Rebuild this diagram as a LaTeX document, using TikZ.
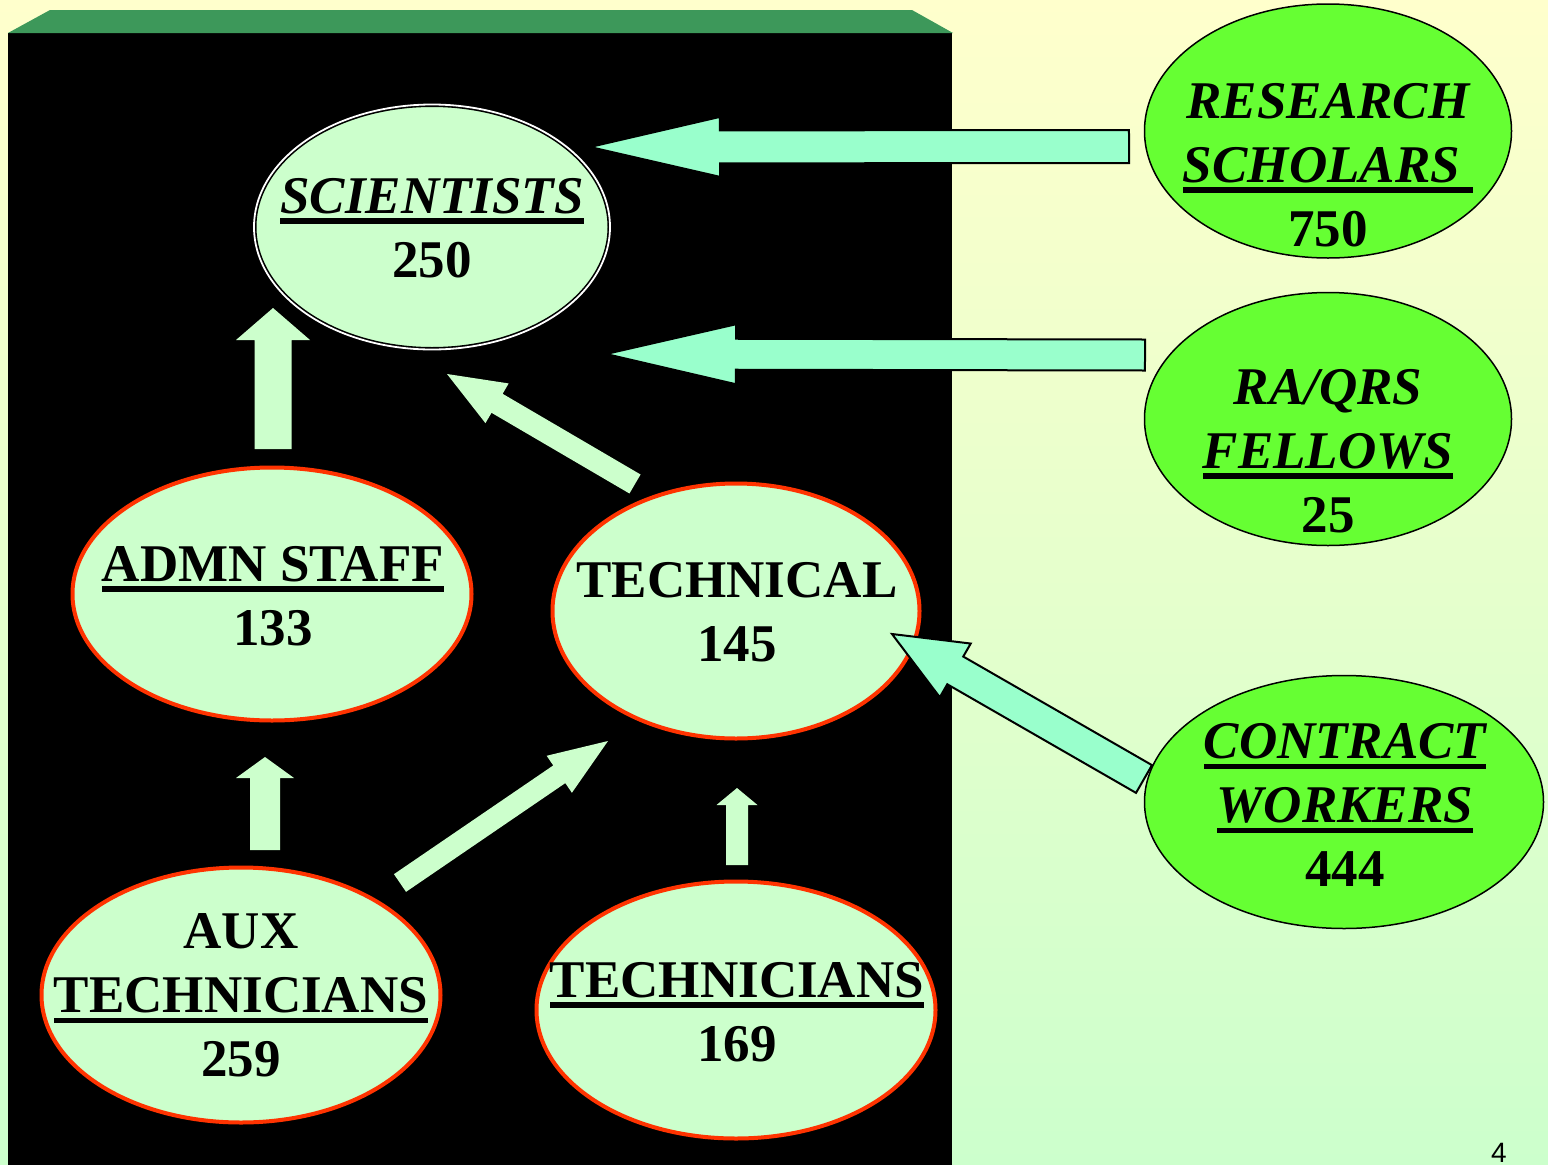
\documentclass[tikz,border=0pt]{standalone}
\usepackage{fontspec}
\setmainfont{Liberation Serif}
\newfontfamily\pagefont{Liberation Sans}
\usepackage{tikz}
\usetikzlibrary{calc, shapes.geometric}

\definecolor{palegreen}{RGB}{204,255,204}
\definecolor{limegreen}{RGB}{102,255,51}
\definecolor{aquagreen}{RGB}{153,255,204}
\definecolor{redline}{RGB}{255,51,0}
\definecolor{bevelgreen}{RGB}{61,152,90}
\definecolor{paleyellow}{RGB}{255,255,204}

% underlined word, bar below the baseline
\newcommand{\barunder}[1]{\setbox0=\hbox{#1}\dp0=0pt\vtop{\box0\kern5pt\hrule height5.5pt}}

% block arrow: [style]{tail}{tip}{half body}{head length}{half head}
\newcommand{\blockarrow}[6][]{%
  \coordinate (ba-base) at ($(#3)!#5pt!(#2)$);
  \path[#1] ($(#2)!#4pt!90:(#3)$) -- ($(ba-base)!#4pt!90:(#3)$)
    -- ($(ba-base)!#6pt!90:(#3)$) -- (#3) -- ($(ba-base)!#6pt!-90:(#3)$)
    -- ($(ba-base)!#4pt!-90:(#3)$) -- ($(#2)!#4pt!-90:(#3)$) -- cycle;}

\begin{document}
\begin{tikzpicture}[x=1pt, y=-1pt,
    staff/.style = {ellipse, draw=redline, line width=4pt,
        fill=palegreen, inner sep=0pt},
    sci/.style = {ellipse, draw=black, double=white,
        double distance=1.8pt, line width=1.6pt, fill=palegreen, inner sep=0pt},
    extra/.style = {ellipse, draw=black, line width=1.5pt,
        fill=limegreen, inner sep=0pt},
    txt/.style = {font=\fontsize{53}{64}\selectfont\bfseries,
        align=center, inner sep=0pt},
    bigarrow/.style = {fill=aquagreen, draw=black, line width=2pt},
    smallarrow/.style = {fill=palegreen}]

% Background
\shade[top color=paleyellow, bottom color=palegreen] (0,0) rectangle (1548,1165);
\useasboundingbox (0,0) rectangle (1548,1165);

% Black panel
\fill[black] (8,33) rectangle (952,1165);
\fill[bevelgreen] (8,33) -- (50,10) -- (912,10) -- (953,33) -- cycle;

% Staff ellipses
\node[sci, minimum width=356pt, minimum height=245pt] (sci) at (432,227) {};
\node[staff, minimum width=399pt, minimum height=253pt] (admn) at (272,594) {};
\node[staff, minimum width=367pt, minimum height=255pt] (tech) at (736,611) {};
\node[staff, minimum width=399pt, minimum height=255pt] (aux) at (241,995) {};
\node[staff, minimum width=399pt, minimum height=257pt] (tcn) at (736,1010) {};

% Outside ellipses
\node[extra, minimum width=367pt, minimum height=254pt] (rs) at (1328,131) {};
\node[extra, minimum width=367pt, minimum height=253pt] (ra) at (1328,419) {};
\node[extra, minimum width=399pt, minimum height=253pt] (cw) at (1344,802) {};

% Arrow ends
\coordinate (rs-tail) at (1129,146.5);
\coordinate (rs-tip) at (590,147);
\coordinate (ra-tail) at (1145,355);
\coordinate (ra-tip) at (606,354);
\coordinate (cw-tail) at (1144,779);
\coordinate (cw-tip) at (892,634);
\coordinate (admn-tail) at (273,449);
\coordinate (admn-tip) at (273,308);
\coordinate (tech-tail) at (635,484);
\coordinate (tech-tip) at (447,374);
\coordinate (auxa-tail) at (265,850);
\coordinate (auxa-tip) at (265,757);
\coordinate (auxt-tail) at (400,883);
\coordinate (auxt-tip) at (608,741);
\coordinate (tcn-tail) at (737,865);
\coordinate (tcn-tip) at (737,788);

% Arrows
\blockarrow[smallarrow]{admn-tail}{admn-tip}{18.5}{32}{37}
\blockarrow[smallarrow]{tech-tail}{tech-tip}{11}{58}{23}
\blockarrow[smallarrow]{auxa-tail}{auxa-tip}{15}{21}{29}
\blockarrow[smallarrow]{auxt-tail}{auxt-tip}{10.7}{59}{22.4}
\blockarrow[smallarrow]{tcn-tail}{tcn-tip}{11}{17}{20.5}
\blockarrow[bigarrow]{rs-tail}{rs-tip}{16.5}{130}{30}
\blockarrow[bigarrow]{ra-tail}{ra-tip}{15.5}{130}{30}
\blockarrow[bigarrow]{cw-tail}{cw-tip}{16}{73}{31}

% Labels
\node[txt] (sci-txt) at (432,228) {\itshape\barunder{SCIENTISTS}\\\upshape 250};
\node[txt] (admn-txt) at (273,596) {\barunder{ADMN STAFF}\\133};
\node[txt] (tech-txt) at (737,612) {TECHNICAL\\145};
\node[txt] (aux-txt) at (241,995.5) {AUX\\\barunder{TECHNICIANS}\\259};
\node[txt] (tcn-txt) at (737,1012) {\barunder{TECHNICIANS}\\169};
\node[txt] (rs-txt) at (1328,165) {\itshape RESEARCH\\\itshape\barunder{SCHOLARS\ }\\\upshape 750};
\node[txt] (ra-txt) at (1328,451) {\itshape RA/QRS\\\itshape\barunder{FELLOWS}\\\upshape 25};
\node[txt] (cw-txt) at (1345,805) {\itshape\barunder{CONTRACT}\\\itshape\barunder{WORKERS}\\\upshape 444};

% Page number
\node[font=\pagefont\fontsize{28}{28}\selectfont, anchor=base, inner sep=0pt] (pagenum) at (1499,1162) {4};
\end{tikzpicture}
\end{document}
